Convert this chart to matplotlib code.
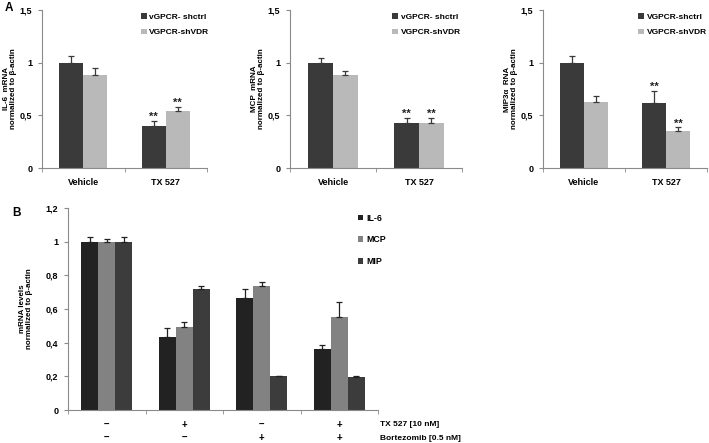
import numpy as np
import matplotlib
matplotlib.use("Agg")
import matplotlib.pyplot as plt

plt.rcParams['font.family'] = ['Liberation Sans', 'DejaVu Sans']
plt.rcParams['font.weight'] = 'bold'
plt.rcParams['axes.labelweight'] = 'bold'

# Panel A data
a_groups = ["Vehicle", "TX 527"]
a_titles = ["IL-6  mRNA\nnormalized to β-actin",
            "MCP  mRNA\nnormalized to β-actin",
            "MIP3α  RNA\nnormalized to β-actin"]
a_legends = [["vGPCR- shctrl", "VGPCR-shVDR"],
             ["vGPCR- shctrl", "VGPCR-shVDR"],
             ["VGPCR-shctrl", "VGPCR-shVDR"]]
a_ctrl = [[1.0, 0.40], [1.0, 0.43], [1.0, 0.615]]
a_ctrl_err = [[0.06, 0.045], [0.045, 0.045], [0.065, 0.12]]
a_vdr = [[0.885, 0.54], [0.885, 0.43], [0.63, 0.355]]
a_vdr_err = [[0.06, 0.04], [0.04, 0.045], [0.05, 0.03]]

# Panel B data
b_series = ["IL-6", "MCP", "MIP"]
b_vals = [[1.0, 0.435, 0.665, 0.36],
          [1.0, 0.495, 0.735, 0.55],
          [1.0, 0.72, 0.20, 0.197]]
b_err = [[0.03, 0.05, 0.055, 0.025],
         [0.015, 0.025, 0.025, 0.09],
         [0.03, 0.015, 0.004, 0.004]]
tx_signs = ["–", "+", "–", "+"]
bz_signs = ["–", "–", "+", "+"]

DARK = "#3a3a3a"
LIGHT = "#b9b9b9"
b_colors = ["#222222", "#828282", "#3c3c3c"]
SPINE = "#8a8a8a"

W, H = 709, 443
fig = plt.figure(figsize=(W / 100, H / 100), dpi=100)


def px_axes(x0, x1, y0, y1):
    return fig.add_axes([x0 / W, 1 - y1 / H, (x1 - x0) / W, (y1 - y0) / H])


def style(ax):
    for s in ["top", "right"]:
        ax.spines[s].set_visible(False)
    for s in ["left", "bottom"]:
        ax.spines[s].set_color(SPINE)
        ax.spines[s].set_linewidth(0.8)
    ax.tick_params(axis="y", length=3, color=SPINE, labelsize=6.5, pad=4)
    ax.tick_params(axis="x", which="both", length=3, color=SPINE)


a_boxes = [(42, 207), (290, 462), (543, 707)]
a_leg_x = [0.58, 0.575, 0.56]
bw = 0.29
x = np.arange(len(a_groups))
for i, (x0, x1) in enumerate(a_boxes):
    ax = px_axes(x0, x1, 10, 168)
    style(ax)
    ekw = dict(ecolor=DARK, elinewidth=0.9, capsize=2.5, capthick=0.9)
    ax.bar(x - bw / 2, a_ctrl[i], bw, color=DARK, label=a_legends[i][0],
           yerr=[np.zeros(2), a_ctrl_err[i]], error_kw=ekw)
    ax.bar(x + bw / 2, a_vdr[i], bw, color=LIGHT, label=a_legends[i][1],
           yerr=[np.zeros(2), a_vdr_err[i]], error_kw=ekw)
    # significance marks on TX 527
    ax.text(1 - bw / 2, a_ctrl[i][1] + a_ctrl_err[i][1] - 0.01, "**",
            ha="center", va="bottom", fontsize=8, color="#222222")
    ax.text(1 + bw / 2, a_vdr[i][1] + a_vdr_err[i][1] - 0.01, "**",
            ha="center", va="bottom", fontsize=8, color="#222222")
    ax.set_xlim(-0.5, 1.5)
    ax.set_ylim(0, 1.5)
    ax.set_yticks([0, 0.5, 1, 1.5])
    ax.set_yticklabels(["0", "0,5", "1", "1,5"])
    ax.set_xticks([0, 1])
    ax.set_xticklabels(a_groups, fontsize=6.5)
    ax.tick_params(axis="x", which="major", length=0, pad=7)
    ax.set_xticks([-0.5, 0.5, 1.5], minor=True)
    ax.set_ylabel(a_titles[i], fontsize=5.8, labelpad=2, linespacing=1.0)
    ax.legend(loc="upper left", bbox_to_anchor=(a_leg_x[i], 1.0), frameon=False,
              fontsize=6, handlelength=0.7, handleheight=0.7, handletextpad=0.3,
              labelspacing=0.9, borderaxespad=0)

fig.text(5 / W, 1 - 8 / H, "A", fontsize=8.5, fontweight="bold", va="center")
fig.text(12 / W, 1 - 213 / H, "B", fontsize=8.5, fontweight="bold", va="center")

# Panel B
axb = px_axes(68, 378, 208, 410)
style(axb)
xb = np.arange(4)
bwb = 0.22
for j, name in enumerate(b_series):
    axb.bar(xb + (j - 1) * bwb, b_vals[j], bwb, color=b_colors[j], label=name,
            yerr=[np.zeros(4), b_err[j]],
            error_kw=dict(ecolor="#222222", elinewidth=0.9, capsize=2.5, capthick=0.9))
axb.set_xlim(-0.5, 3.5)
axb.set_ylim(0, 1.2)
axb.set_yticks([0, 0.2, 0.4, 0.6, 0.8, 1.0, 1.2])
axb.set_yticklabels(["0", "0,2", "0,4", "0,6", "0,8", "1", "1,2"])
axb.set_xticks([])
axb.set_xticks(np.arange(-0.5, 4, 1), minor=True)
axb.set_ylabel("mRNA levels\nnormalized to β-actin", fontsize=5.8, labelpad=9,
               linespacing=1.05)
axb.legend(loc="upper left", bbox_to_anchor=(0.925, 0.99), frameon=False,
           fontsize=6.3, handlelength=0.6, handleheight=0.6, handletextpad=0.3,
           labelspacing=1.45, borderaxespad=0)
for k in range(4):
    axb.text(xb[k], -0.089, tx_signs[k], ha="center", va="center", fontsize=7)
    axb.text(xb[k], -0.167, bz_signs[k], ha="center", va="center", fontsize=7)
axb.text(3.52, -0.089, "TX 527 [10 nM]", ha="left", va="center", fontsize=6)
axb.text(3.52, -0.167, "Bortezomib [0.5 nM]", ha="left", va="center", fontsize=6)

fig.savefig("out.png", dpi=100)
